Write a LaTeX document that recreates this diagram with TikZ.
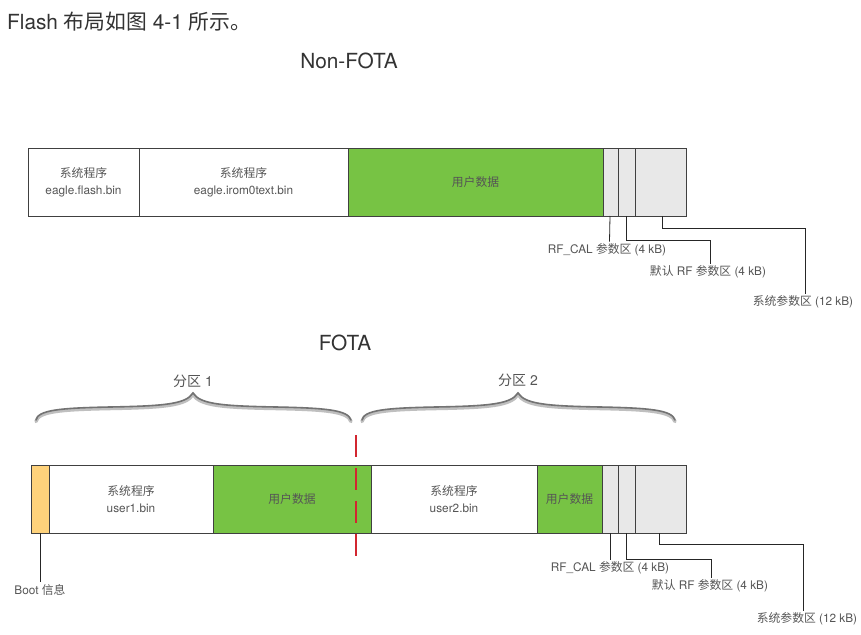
\documentclass[tikz,border=0pt]{standalone}
\usepackage{fontspec}
\setmainfont{TeX Gyre Heros}
\newfontfamily\cjk{Noto Sans CJK SC}
\newcommand\zh[1]{{\cjk #1}}
\definecolor{grn}{HTML}{77C344}
\definecolor{lgray}{HTML}{E8E8E8}
\definecolor{bootc}{HTML}{FED27B}
\definecolor{txt}{HTML}{555555}
\definecolor{dashred}{HTML}{D22630}
\tikzset{
  seg/.style={draw=black!75, line width=0.9pt, minimum height=68, inner sep=0pt, outer sep=0pt,
    anchor=north west, text=txt, font=\fontsize{11.8}{17}\selectfont, align=center},
  lbl/.style={text=txt, font=\fontsize{11.8}{13}\selectfont, inner sep=2pt},
  ttl/.style={text=black!80, font=\fontsize{20.8}{24}\selectfont, inner sep=0pt},
  lead/.style={draw=black!85, line width=0.8pt},
  bracesh/.style={draw=black!25, line width=3.5pt, line cap=round},
  bracefg/.style={draw=black!55, line width=1.6pt, line cap=round},
}
\begin{document}
\begin{tikzpicture}[x=1pt, y=-1pt]
\useasboundingbox (0,0) rectangle (861,634);
\fill[white] (0,0) rectangle (861,634);

% headings
\node[ttl, anchor=west] (head) at (7,22) {Flash \zh{布局如图} 4-1 \zh{所示。}};
\node[ttl] (t1) at (349,61) {Non-FOTA};
\node[ttl] (t2) at (345,343) {FOTA};

% Non-FOTA bar
\node[seg, minimum width=111] (a1) at (28,148) {\zh{系统程序}\\eagle.flash.bin};
\node[seg, minimum width=209] (a2) at (139,148) {\zh{系统程序}\\eagle.irom0text.bin};
\node[seg, minimum width=255, fill=grn] (a3) at (348,148) {\zh{用户数据}};
\node[seg, minimum width=15, fill=lgray] (a4) at (603,148) {};
\node[seg, minimum width=17, fill=lgray] (a5) at (618,148) {};
\node[seg, minimum width=51, fill=lgray] (a6) at (635,148) {};

\node[lbl] (la4) at (607,250) {RF\_CAL \zh{参数区} (4 kB)};
\node[lbl] (la5) at (708,272) {\zh{默认} RF \zh{参数区} (4 kB)};
\node[lbl] (la6) at (803,302) {\zh{系统参数区} (12 kB)};
\draw[lead] ([xshift=-0.5]a4.south) -- ([xshift=2.5]la4.north);
\draw[lead] (a5.south) -- ++(0,24) -| ([xshift=2]la5.north);
\draw[lead] ([xshift=2.2]a6.south) -- ++(0,12) -| ([xshift=2]la6.north);

% FOTA bar
\node[seg, minimum width=17.3, fill=bootc] (b0) at (31.7,465) {};
\node[seg, minimum width=164] (b1) at (49,465) {\zh{系统程序}\\user1.bin};
\node[seg, minimum width=158, fill=grn] (b2) at (213,465) {\zh{用户数据}};
\node[seg, minimum width=166] (b3) at (371,465) {\zh{系统程序}\\user2.bin};
\node[seg, minimum width=65, fill=grn] (b4) at (537,465) {\zh{用户数据}};
\node[seg, minimum width=16, fill=lgray] (b5) at (602,465) {};
\node[seg, minimum width=17, fill=lgray] (b6) at (618,465) {};
\node[seg, minimum width=51, fill=lgray] (b7) at (635,465) {};

\node[lbl] (lb0) at (40,590) {Boot \zh{信息}};
\node[lbl] (lb5) at (610,568) {RF\_CAL \zh{参数区} (4 kB)};
\node[lbl] (lb6) at (710,586) {\zh{默认} RF \zh{参数区} (4 kB)};
\node[lbl] (lb7) at (807,619) {\zh{系统参数区} (12 kB)};
\draw[lead] (b0.south) -- (b0.south |- lb0.north);
\draw[lead] (b5.south) -- (b5.south |- lb5.north);
\draw[lead] (b6.south) -- ++(0,26) -| ([xshift=1]lb6.north);
\draw[lead] ([xshift=-1.2]b7.south) -- ++(0,11) -| ([xshift=-4]lb7.north);

% red dashed split
\coordinate (r1) at (356,435);
\coordinate (r2) at (356,558);
\draw[dashred, line width=2.5pt, dash pattern=on 22pt off 11pt] (r1) -- (r2);

% braces
\foreach \s/\o in {bracesh/1.5, bracefg/0}{
  \draw[\s, yshift=-\o] (36,420) .. controls (38,410) and (60,408) .. (110,407)
     .. controls (165,406) and (186,404) .. (193,393)
     .. controls (200,404) and (221,406) .. (276,407)
     .. controls (326,408) and (348,410) .. (351,420);
  \draw[\s, yshift=-\o] (362,420) .. controls (364,410) and (386,408) .. (436,407)
     .. controls (490,406) and (511,404) .. (518,393)
     .. controls (525,404) and (546,406) .. (600,407)
     .. controls (650,408) and (672,410) .. (675,420);
}
\node[lbl, font=\fontsize{14}{16}\selectfont] (p1) at (193,381) {\zh{分区} 1};
\node[lbl, font=\fontsize{14}{16}\selectfont] (p2) at (518,380) {\zh{分区} 2};
\end{tikzpicture}
\end{document}
